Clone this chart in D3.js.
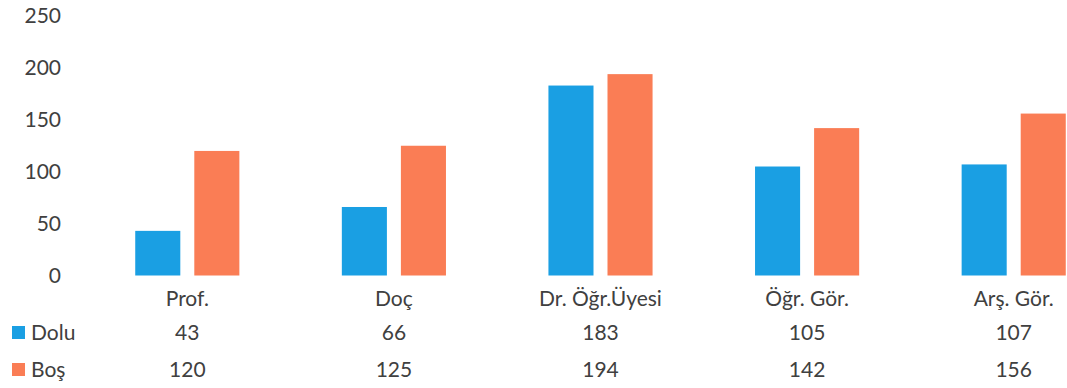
<!DOCTYPE html>
<html>
<head>
<meta charset="utf-8">
<script src="https://cdn.jsdelivr.net/npm/d3@7"></script>
<style>
  html, body { margin: 0; padding: 0; background: #fff; }
  svg text { font-family: Lato, "Open Sans", sans-serif; fill: #404040; }
</style>
</head>
<body>
<svg id="chart" width="1067" height="388"></svg>
<script>
// Akademik kadro: dolu ve boş kadro sayıları
const categories = ["Prof.", "Doç", "Dr. Öğr.Üyesi", "Öğr. Gör.", "Arş. Gör."];
const seriesNames = ["Dolu", "Boş"];
const dolu = [43, 66, 183, 105, 107];
const bos = [120, 125, 194, 142, 156];
const yTicks = [0, 50, 100, 150, 200, 250];

const seriesValues = { "Dolu": dolu, "Boş": bos };
const colors = { "Dolu": "#1a9fe3", "Boş": "#fa7d55" };

const svg = d3.select("#chart");

const y = d3.scaleLinear().domain([0, 250]).range([275.5, 16]);

const x0 = d3.scaleBand()
  .domain(categories)
  .range([84, 1117])
  .paddingInner(0)
  .paddingOuter(0);

const bw = x0.bandwidth();
const x1 = d3.scaleBand()
  .domain(seriesNames)
  .range([bw * 0.248, bw * 0.752])
  .paddingInner(0.237);

// Y axis labels only (no line, no ticks)
const yAxis = d3.axisLeft(y).tickValues(yTicks).tickSize(0).tickPadding(0);
const gy = svg.append("g").attr("transform", "translate(61,0)").call(yAxis);
gy.select(".domain").remove();
gy.selectAll("text")
  .attr("font-size", 21)
  .attr("font-family", null)
  .style("fill", "#404040");

// Bars
const groups = svg.append("g").selectAll("g")
  .data(categories)
  .join("g")
  .attr("transform", d => `translate(${x0(d)},0)`);

groups.selectAll("rect")
  .data((c, i) => seriesNames.map(s => ({ s, v: seriesValues[s][i] })))
  .join("rect")
  .attr("x", d => x1(d.s))
  .attr("width", x1.bandwidth())
  .attr("y", d => y(d.v))
  .attr("height", d => y(0) - y(d.v))
  .attr("fill", d => colors[d.s]);

// Category labels under the bars
svg.append("g").selectAll("text")
  .data(categories)
  .join("text")
  .attr("x", d => x0(d) + bw / 2)
  .attr("y", 297)
  .attr("text-anchor", "middle")
  .attr("dominant-baseline", "central")
  .attr("font-size", 21)
  .text(d => d);

// Data table rows with legend keys
const rowY = { "Dolu": 331, "Boş": 368 };
seriesNames.forEach(s => {
  const row = svg.append("g");
  row.append("rect")
    .attr("x", 12)
    .attr("y", rowY[s] - 5)
    .attr("width", 13)
    .attr("height", 13)
    .attr("fill", colors[s]);
  row.append("text")
    .attr("x", 31)
    .attr("y", rowY[s])
    .attr("dominant-baseline", "central")
    .attr("font-size", 21)
    .text(s);
  row.selectAll("text.val")
    .data(categories.map((c, i) => ({ c, v: seriesValues[s][i] })))
    .join("text")
    .attr("class", "val")
    .attr("x", d => x0(d.c) + bw / 2)
    .attr("y", rowY[s])
    .attr("text-anchor", "middle")
    .attr("dominant-baseline", "central")
    .attr("font-size", 21)
    .text(d => d.v);
});
</script>
</body>
</html>
